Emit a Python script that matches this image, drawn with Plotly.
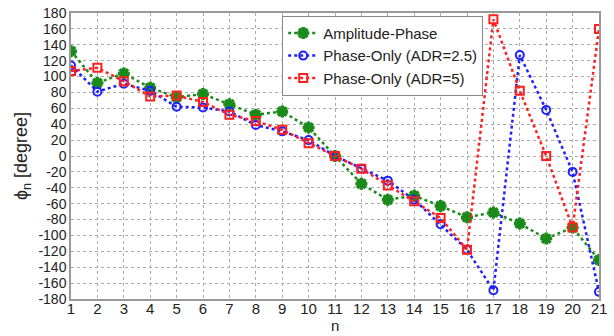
import plotly.graph_objects as go

n = list(range(1, 22))
amp_phase = [132, 92, 104, 86, 74, 78, 65, 52, 56, 36, 0, -35, -55, -50, -63, -77, -71, -85, -104, -90, -131]
po_25 = [114, 81, 91, 82, 62, 61, 56, 39, 31, 20, 0, -16, -31, -55, -86, -118, -169, 127, 58, -20, -171]
po_5 = [107, 111, 94, 75, 76, 68, 52, 44, 33, 16, 0, -16, -37, -57, -78, -118, 172, 82, 0, -90, 160]
yticks = list(range(-180, 181, 20))

fig = go.Figure()
fig.add_trace(go.Scatter(x=n, y=amp_phase, name="Amplitude-Phase", mode="lines+markers",
                         line=dict(color="#1a8a1a", width=2.5, dash="dot"),
                         marker=dict(symbol="asterisk-open", size=10, color="#1a8a1a",
                                     line=dict(color="#1a8a1a", width=3.5))))
fig.add_trace(go.Scatter(x=n, y=po_25, name="Phase-Only (ADR=2.5)", mode="lines+markers",
                         line=dict(color="#1f1fff", width=2.5, dash="dot"),
                         marker=dict(symbol="circle-open", size=8, color="#1f1fff",
                                     line=dict(color="#1f1fff", width=2))))
fig.add_trace(go.Scatter(x=n, y=po_5, name="Phase-Only (ADR=5)", mode="lines+markers",
                         line=dict(color="#ff1f1f", width=2.5, dash="dot"),
                         marker=dict(symbol="square-open", size=8, color="#ff1f1f",
                                     line=dict(color="#ff1f1f", width=2))))

fig.update_layout(
    width=614, height=336,
    margin=dict(l=71, r=15, t=13, b=37),
    paper_bgcolor="white", plot_bgcolor="white",
    font=dict(family="Liberation Sans, Arial, sans-serif", size=15, color="#222"),
    legend=dict(x=0.40, y=0.99, xanchor="left", yanchor="top",
                bgcolor="white", bordercolor="#888", borderwidth=1,
                font=dict(size=15), itemwidth=30, tracegroupgap=0),
    annotations=[dict(text="n", xref="paper", yref="paper", x=0.5, y=-0.094,
                      xanchor="center", yanchor="middle", showarrow=False,
                      font=dict(size=15))],
)
fig.update_xaxes(range=[1, 21], tickmode="array", tickvals=n, ticktext=[str(v) for v in n],
                 showgrid=True, gridcolor="#aaa", griddash="dot", gridwidth=1,
                 showline=True, linecolor="#999", linewidth=1.5, mirror=True,
                 zeroline=False, ticks="", ticklabelstandoff=-5, automargin=False,
                 tickfont=dict(size=15))
fig.update_yaxes(range=[-180, 180], tickmode="array", tickvals=yticks,
                 ticktext=[str(v) for v in yticks],
                 showgrid=True, gridcolor="#aaa", griddash="dot", gridwidth=1,
                 showline=True, linecolor="#999", linewidth=1.5, mirror=True,
                 zeroline=False, ticks="", automargin=False,
                 tickfont=dict(size=14),
                 title=dict(text="ϕ<sub>n</sub> [degree]", standoff=6))

fig.write_html("out.html")
